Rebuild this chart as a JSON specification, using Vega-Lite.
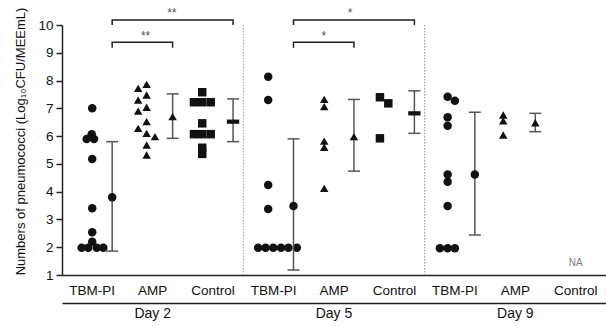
{
  "$schema": "https://vega.github.io/schema/vega-lite/v6.json",
  "width": 544,
  "height": 250,
  "autosize": {"type": "none"},
  "padding": {"left": 62, "top": 25, "right": 0, "bottom": 51},
  "background": "white",
  "config": {
    "view": {"stroke": null},
    "font": "Liberation Sans",
    "axis": {"grid": false, "domainColor": "#222", "domainWidth": 1.5, "tickColor": "#222", "labelColor": "#111", "titleColor": "#111", "labelFont": "Liberation Sans", "titleFont": "Liberation Sans", "titleFontWeight": "normal", "labelOverlap": false},
    "axisY": {"tickCount": 10, "labelOverlap": false, "labelFlush": false}
  },
  "datasets": {
    "pts": [
      {"key": "D2|TBM-PI", "group": "TBM-PI", "v": 7.0, "dx": 0},
      {"key": "D2|TBM-PI", "group": "TBM-PI", "v": 6.07, "dx": -0.5},
      {"key": "D2|TBM-PI", "group": "TBM-PI", "v": 5.9, "dx": -5.5},
      {"key": "D2|TBM-PI", "group": "TBM-PI", "v": 5.9, "dx": 1.8},
      {"key": "D2|TBM-PI", "group": "TBM-PI", "v": 5.18, "dx": 0},
      {"key": "D2|TBM-PI", "group": "TBM-PI", "v": 3.4, "dx": 0},
      {"key": "D2|TBM-PI", "group": "TBM-PI", "v": 2.54, "dx": 0},
      {"key": "D2|TBM-PI", "group": "TBM-PI", "v": 2.2, "dx": 0},
      {"key": "D2|TBM-PI", "group": "TBM-PI", "v": 1.98, "dx": -10.5},
      {"key": "D2|TBM-PI", "group": "TBM-PI", "v": 1.98, "dx": -4},
      {"key": "D2|TBM-PI", "group": "TBM-PI", "v": 1.98, "dx": 4.5},
      {"key": "D2|TBM-PI", "group": "TBM-PI", "v": 1.98, "dx": 11},
      {"key": "D2|AMP", "group": "AMP", "v": 7.72, "dx": -14.4},
      {"key": "D2|AMP", "group": "AMP", "v": 7.86, "dx": -6},
      {"key": "D2|AMP", "group": "AMP", "v": 7.30, "dx": -14.4},
      {"key": "D2|AMP", "group": "AMP", "v": 7.48, "dx": -6},
      {"key": "D2|AMP", "group": "AMP", "v": 6.90, "dx": -14.4},
      {"key": "D2|AMP", "group": "AMP", "v": 7.04, "dx": -6},
      {"key": "D2|AMP", "group": "AMP", "v": 6.52, "dx": -6},
      {"key": "D2|AMP", "group": "AMP", "v": 6.28, "dx": -14.4},
      {"key": "D2|AMP", "group": "AMP", "v": 6.10, "dx": -6},
      {"key": "D2|AMP", "group": "AMP", "v": 5.98, "dx": 2.3},
      {"key": "D2|AMP", "group": "AMP", "v": 5.68, "dx": -6},
      {"key": "D2|AMP", "group": "AMP", "v": 5.32, "dx": -6},
      {"key": "D2|Control", "group": "Control", "v": 7.58, "dx": -10.8},
      {"key": "D2|Control", "group": "Control", "v": 7.22, "dx": -19},
      {"key": "D2|Control", "group": "Control", "v": 7.22, "dx": -10.8},
      {"key": "D2|Control", "group": "Control", "v": 7.22, "dx": -2.4},
      {"key": "D2|Control", "group": "Control", "v": 6.46, "dx": -10.8},
      {"key": "D2|Control", "group": "Control", "v": 6.07, "dx": -19},
      {"key": "D2|Control", "group": "Control", "v": 6.07, "dx": -10.8},
      {"key": "D2|Control", "group": "Control", "v": 6.07, "dx": -2.4},
      {"key": "D2|Control", "group": "Control", "v": 5.58, "dx": -10.8},
      {"key": "D2|Control", "group": "Control", "v": 5.36, "dx": -10.8},
      {"key": "D5|TBM-PI", "group": "TBM-PI", "v": 8.14, "dx": -5.3},
      {"key": "D5|TBM-PI", "group": "TBM-PI", "v": 7.30, "dx": -5.3},
      {"key": "D5|TBM-PI", "group": "TBM-PI", "v": 4.24, "dx": -5.3},
      {"key": "D5|TBM-PI", "group": "TBM-PI", "v": 3.38, "dx": -5.3},
      {"key": "D5|TBM-PI", "group": "TBM-PI", "v": 1.98, "dx": -15.3},
      {"key": "D5|TBM-PI", "group": "TBM-PI", "v": 1.98, "dx": -7.9},
      {"key": "D5|TBM-PI", "group": "TBM-PI", "v": 1.98, "dx": -0.3},
      {"key": "D5|TBM-PI", "group": "TBM-PI", "v": 1.98, "dx": 7.4},
      {"key": "D5|TBM-PI", "group": "TBM-PI", "v": 1.98, "dx": 14.7},
      {"key": "D5|TBM-PI", "group": "TBM-PI", "v": 1.98, "dx": 23.1},
      {"key": "D5|AMP", "group": "AMP", "v": 7.32, "dx": -9.7},
      {"key": "D5|AMP", "group": "AMP", "v": 7.06, "dx": -9.7},
      {"key": "D5|AMP", "group": "AMP", "v": 5.82, "dx": -9.7},
      {"key": "D5|AMP", "group": "AMP", "v": 5.60, "dx": -9.7},
      {"key": "D5|AMP", "group": "AMP", "v": 4.12, "dx": -9.7},
      {"key": "D5|Control", "group": "Control", "v": 7.40, "dx": -14.4},
      {"key": "D5|Control", "group": "Control", "v": 7.18, "dx": -6.1},
      {"key": "D5|Control", "group": "Control", "v": 5.92, "dx": -14.4},
      {"key": "D9|TBM-PI", "group": "TBM-PI", "v": 7.42, "dx": -7.2},
      {"key": "D9|TBM-PI", "group": "TBM-PI", "v": 7.27, "dx": 0},
      {"key": "D9|TBM-PI", "group": "TBM-PI", "v": 6.68, "dx": -7.2},
      {"key": "D9|TBM-PI", "group": "TBM-PI", "v": 6.37, "dx": -7.2},
      {"key": "D9|TBM-PI", "group": "TBM-PI", "v": 4.62, "dx": -7.2},
      {"key": "D9|TBM-PI", "group": "TBM-PI", "v": 4.36, "dx": -7.2},
      {"key": "D9|TBM-PI", "group": "TBM-PI", "v": 3.48, "dx": -7.2},
      {"key": "D9|TBM-PI", "group": "TBM-PI", "v": 1.96, "dx": -14.9},
      {"key": "D9|TBM-PI", "group": "TBM-PI", "v": 1.96, "dx": -7.2},
      {"key": "D9|TBM-PI", "group": "TBM-PI", "v": 1.96, "dx": 0},
      {"key": "D9|AMP", "group": "AMP", "v": 6.76, "dx": -12},
      {"key": "D9|AMP", "group": "AMP", "v": 6.55, "dx": -12},
      {"key": "D9|AMP", "group": "AMP", "v": 6.04, "dx": -12}
    ],
    "summ": [
      {"key": "D2|TBM-PI", "group": "TBM-PI", "mean": 3.8, "lo": 1.86, "hi": 5.8},
      {"key": "D2|AMP", "group": "AMP", "mean": 6.7, "lo": 5.92, "hi": 7.52},
      {"key": "D2|Control", "group": "Control", "mean": 6.52, "lo": 5.8, "hi": 7.34},
      {"key": "D5|TBM-PI", "group": "TBM-PI", "mean": 3.48, "lo": 1.18, "hi": 5.9},
      {"key": "D5|AMP", "group": "AMP", "mean": 5.98, "lo": 4.74, "hi": 7.32},
      {"key": "D5|Control", "group": "Control", "mean": 6.82, "lo": 6.1, "hi": 7.63},
      {"key": "D9|TBM-PI", "group": "TBM-PI", "mean": 4.62, "lo": 2.44, "hi": 6.86},
      {"key": "D9|AMP", "group": "AMP", "mean": 6.48, "lo": 6.16, "hi": 6.82}
    ],
    "brackets": [
      {"id": "d2o", "key": "D2|TBM-PI", "y": 10.0, "o": 0},
      {"id": "d2o", "key": "D2|TBM-PI", "y": 10.18, "o": 1},
      {"id": "d2o", "key": "D2|Control", "y": 10.18, "o": 2},
      {"id": "d2o", "key": "D2|Control", "y": 10.0, "o": 3},
      {"id": "d2i", "key": "D2|TBM-PI", "y": 9.18, "o": 0},
      {"id": "d2i", "key": "D2|TBM-PI", "y": 9.38, "o": 1},
      {"id": "d2i", "key": "D2|AMP", "y": 9.38, "o": 2},
      {"id": "d2i", "key": "D2|AMP", "y": 9.18, "o": 3},
      {"id": "d5o", "key": "D5|TBM-PI", "y": 10.0, "o": 0},
      {"id": "d5o", "key": "D5|TBM-PI", "y": 10.18, "o": 1},
      {"id": "d5o", "key": "D5|Control", "y": 10.18, "o": 2},
      {"id": "d5o", "key": "D5|Control", "y": 10.0, "o": 3},
      {"id": "d5i", "key": "D5|TBM-PI", "y": 9.18, "o": 0},
      {"id": "d5i", "key": "D5|TBM-PI", "y": 9.38, "o": 1},
      {"id": "d5i", "key": "D5|AMP", "y": 9.38, "o": 2},
      {"id": "d5i", "key": "D5|AMP", "y": 9.18, "o": 3}
    ],
    "stars": [
      {"key": "D2|AMP", "dx": 19, "y": 10.29, "label": "**"},
      {"key": "D2|AMP", "dx": -7, "y": 9.46, "label": "**"},
      {"key": "D5|AMP", "dx": 16, "y": 10.29, "label": "*"},
      {"key": "D5|AMP", "dx": -10, "y": 9.46, "label": "*"}
    ],
    "na": [
      {"key": "D9|Control", "y": 1.42, "label": "NA"}
    ],
    "days": [
      {"day": "Day 5"},
      {"day": "Day 9"}
    ]
  },
  "layer": [
    {
      "resolve": {"scale": {"shape": "independent"}},
      "layer": [
        {
          "data": {"name": "pts"},
          "mark": {"type": "point", "filled": true, "opacity": 1, "size": 72, "color": "#111"},
          "encoding": {
            "x": {"field": "key", "type": "nominal", "title": null,
                  "scale": {"domain": ["D2|TBM-PI", "D2|AMP", "D2|Control", "D5|TBM-PI", "D5|AMP", "D5|Control", "D9|TBM-PI", "D9|AMP", "D9|Control"], "paddingInner": 0, "paddingOuter": 0},
                  "axis": {"orient": "bottom", "labelExpr": "split(datum.value, '|')[1]", "labelAngle": 0, "ticks": false, "labelPadding": 8, "labelFontSize": 13.5, "labelBaseline": "top"}},
            "xOffset": {"field": "dx", "type": "quantitative", "scale": {"domain": [-30, 30]}},
            "y": {"field": "v", "type": "quantitative", "title": "Numbers of pneumococci (Log₁₀CFU/MEEmL)",
                  "scale": {"domain": [1, 10], "nice": false, "zero": false},
                  "axis": {"values": [1, 2, 3, 4, 5, 6, 7, 8, 9, 10], "tickCount": 10, "labelOverlap": false, "tickSize": 6, "tickWidth": 1.5, "labelPadding": 3, "labelFontSize": 13.5, "titleFontSize": 13, "titlePadding": 10, "titleY": 116}},
            "shape": {"field": "group", "type": "nominal", "legend": null,
                      "scale": {"domain": ["TBM-PI", "AMP", "Control"], "range": ["circle", "triangle-up", "square"]}}
          }
        },
        {
          "data": {"name": "summ"},
          "mark": {"type": "rule", "color": "#555", "strokeWidth": 1.5},
          "encoding": {
            "x": {"field": "key", "type": "nominal", "title": null, "bandPosition": 0.83},
            "y": {"field": "lo", "type": "quantitative", "title": "Numbers of pneumococci (Log₁₀CFU/MEEmL)", "scale": {"domain": [1, 10], "nice": false, "zero": false}},
            "y2": {"field": "hi"}
          }
        },
        {
          "data": {"name": "summ"},
          "mark": {"type": "point", "shape": "stroke", "filled": false, "opacity": 1, "size": 144, "color": "#555", "strokeWidth": 1.5},
          "encoding": {
            "x": {"field": "key", "type": "nominal", "title": null, "bandPosition": 0.83},
            "y": {"field": "lo", "type": "quantitative", "title": "Numbers of pneumococci (Log₁₀CFU/MEEmL)", "scale": {"domain": [1, 10], "nice": false, "zero": false}}
          }
        },
        {
          "data": {"name": "summ"},
          "mark": {"type": "point", "shape": "stroke", "filled": false, "opacity": 1, "size": 144, "color": "#555", "strokeWidth": 1.5},
          "encoding": {
            "x": {"field": "key", "type": "nominal", "title": null, "bandPosition": 0.83},
            "y": {"field": "hi", "type": "quantitative", "title": "Numbers of pneumococci (Log₁₀CFU/MEEmL)", "scale": {"domain": [1, 10], "nice": false, "zero": false}}
          }
        },
        {
          "data": {"name": "summ"},
          "mark": {"type": "point", "filled": true, "opacity": 1, "size": 72, "color": "#111"},
          "encoding": {
            "x": {"field": "key", "type": "nominal", "title": null, "bandPosition": 0.83},
            "y": {"field": "mean", "type": "quantitative", "title": "Numbers of pneumococci (Log₁₀CFU/MEEmL)", "scale": {"domain": [1, 10], "nice": false, "zero": false}},
            "shape": {"field": "group", "type": "nominal", "legend": null,
                      "scale": {"domain": ["TBM-PI", "AMP", "Control"], "range": ["circle", "triangle-up", "M-1.45,-0.5H1.45V0.5H-1.45Z"]}}
          }
        },
        {
          "data": {"name": "brackets"},
          "mark": {"type": "line", "color": "#222", "strokeWidth": 1.5, "clip": false},
          "encoding": {
            "x": {"field": "key", "type": "nominal", "title": null, "bandPosition": 0.83},
            "y": {"field": "y", "type": "quantitative", "title": "Numbers of pneumococci (Log₁₀CFU/MEEmL)", "scale": {"domain": [1, 10], "nice": false, "zero": false}},
            "detail": {"field": "id", "type": "nominal"},
            "order": {"field": "o", "type": "quantitative"}
          }
        },
        {
          "data": {"name": "stars"},
          "mark": {"type": "text", "color": "#555", "fontSize": 12, "baseline": "alphabetic", "align": "center"},
          "encoding": {
            "x": {"field": "key", "type": "nominal", "title": null},
            "xOffset": {"field": "dx", "type": "quantitative"},
            "y": {"field": "y", "type": "quantitative", "title": "Numbers of pneumococci (Log₁₀CFU/MEEmL)", "scale": {"domain": [1, 10], "nice": false, "zero": false}},
            "text": {"field": "label", "type": "nominal"}
          }
        },
        {
          "data": {"name": "na"},
          "mark": {"type": "text", "color": "#777", "fontSize": 10, "baseline": "middle", "align": "center"},
          "encoding": {
            "x": {"field": "key", "type": "nominal", "title": null},
            "y": {"field": "y", "type": "quantitative", "title": "Numbers of pneumococci (Log₁₀CFU/MEEmL)", "scale": {"domain": [1, 10], "nice": false, "zero": false}},
            "text": {"field": "label", "type": "nominal"}
          }
        }
      ]
    },
    {
      "data": {"name": "days"},
      "mark": {"type": "rule", "color": "#999", "strokeDash": [1.5, 1.5], "strokeWidth": 1},
      "encoding": {
        "x": {"field": "day", "type": "nominal", "title": null, "bandPosition": 0,
              "scale": {"domain": ["Day 2", "Day 5", "Day 9"], "paddingInner": 0, "paddingOuter": 0},
              "axis": {"orient": "bottom", "offset": 28, "ticks": false, "labelAngle": 0, "labelPadding": 3, "labelFontSize": 14, "labelBaseline": "top", "domainColor": "#222", "domainWidth": 1.5}}
      }
    }
  ],
  "resolve": {"scale": {"x": "independent"}, "axis": {"x": "independent"}}
}
